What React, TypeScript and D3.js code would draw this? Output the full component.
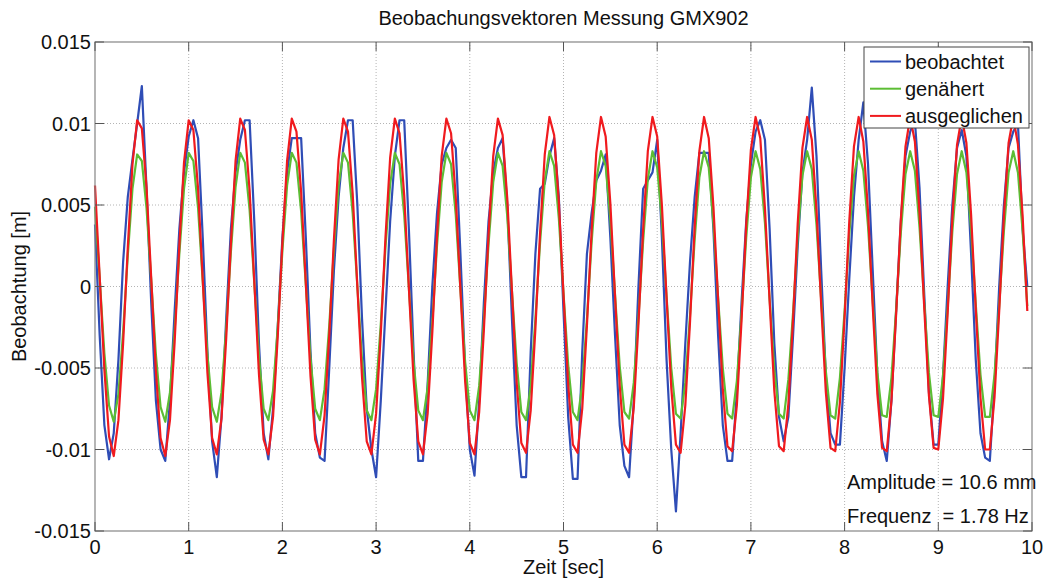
import React from 'react';
import * as d3 from 'd3';

const TITLE = 'Beobachungsvektoren Messung GMX902';
const X_LABEL = 'Zeit [sec]';
const Y_LABEL = 'Beobachtung [m]';

// samples every 0.05 s (20 Hz), values in mm
const SAMPLE_STEP = 0.05;

const xTicks = [0, 1, 2, 3, 4, 5, 6, 7, 8, 9, 10];
const yTicks = [0.015, 0.01, 0.005, 0, -0.005, -0.01, -0.015];
const yTickLabels = ['0.015', '0.01', '0.005', '0', '-0.005', '-0.01', '-0.015'];

const beobachtet = [
  3.8, -3.0, -8.5, -10.6, -9.0, -4.5, 1.5, 5.5, 7.8, 10.0, 12.3,
  6.0, -1.0, -7.0, -10.0, -10.7, -7.0, -1.5, 3.5, 7.0, 9.2, 10.2,
  9.1, 3.0, -4.0, -9.5, -11.7, -8.0, -2.0, 3.5, 7.0, 9.0, 10.2,
  10.2, 4.0, -3.5, -9.0, -10.6, -7.5, -2.5, 3.0, 7.0, 9.1, 9.1,
  9.1, 3.0, -4.0, -9.0, -10.5, -10.7, -5.0, 1.0, 5.5, 8.5, 10.2,
  10.2, 5.0, -2.0, -7.5, -10.0, -11.7, -7.0, -1.5, 4.0, 8.0, 10.2,
  10.2, 3.5, -4.0, -10.7, -10.7, -6.0, 0.0, 4.5, 7.5, 8.5, 9.0,
  8.5, 2.0, -5.0, -10.0, -11.6, -7.0, -1.0, 4.0, 7.0, 8.5, 9.1,
  5.0, -2.0, -8.5, -11.7, -11.7, -4.0, 2.0, 6.0, 6.3, 8.0, 9.1,
  5.5, -1.5, -8.0, -11.8, -11.8, -4.0, 2.0, 4.5, 6.5, 7.1, 8.1,
  3.0, -3.0, -8.5, -11.0, -11.7, -7.0, 0.0, 6.0, 6.5, 7.0, 9.0,
  3.0, -4.5, -10.0, -13.8, -9.0, -3.5, 1.5, 5.5, 8.2, 8.2, 8.2,
  3.5, -3.0, -8.5, -10.7, -10.7, -6.5, -1.0, 4.0, 7.5, 9.5, 10.2,
  9.0, 3.5, -3.5, -8.0, -9.5, -8.0, -3.0, 2.5, 7.0, 9.0, 12.2,
  8.0, 1.0, -5.5, -9.0, -9.7, -9.7, -5.0, 0.5, 5.5, 9.0, 11.3,
  7.5, 1.0, -5.5, -9.5, -10.7, -7.0, -1.5, 4.0, 8.0, 9.5, 10.2,
  6.0, -0.5, -6.5, -9.7, -9.7, -5.5, 0.0, 5.0, 8.5, 9.6, 8.0,
  2.0, -4.5, -9.0, -10.5, -10.7, -6.0, 0.0, 5.0, 8.5, 9.5, 10.0,
  3.5, 0.0,
];

const genaehert = [
  4.9, 0.5, -4.1, -7.3, -8.3, -6.6, -2.8, 1.9, 6.0, 8.1, 7.7,
  4.8, 0.4, -4.2, -7.4, -8.3, -6.5, -2.7, 2.0, 6.0, 8.2, 7.7,
  4.8, 0.3, -4.2, -7.4, -8.3, -6.5, -2.6, 2.1, 6.1, 8.2, 7.6,
  4.7, 0.2, -4.3, -7.5, -8.2, -6.4, -2.5, 2.2, 6.2, 8.2, 7.6,
  4.6, 0.1, -4.4, -7.5, -8.2, -6.3, -2.4, 2.3, 6.2, 8.2, 7.6,
  4.5, 0.0, -4.5, -7.6, -8.2, -6.3, -2.3, 2.4, 6.3, 8.2, 7.5,
  4.4, -0.1, -4.6, -7.6, -8.2, -6.2, -2.2, 2.5, 6.4, 8.2, 7.5,
  4.4, -0.2, -4.6, -7.6, -8.2, -6.1, -2.1, 2.6, 6.4, 8.2, 7.4,
  4.3, -0.3, -4.7, -7.7, -8.2, -6.1, -2.0, 2.7, 6.5, 8.3, 7.4,
  4.2, -0.4, -4.8, -7.7, -8.2, -6.0, -2.0, 2.7, 6.5, 8.3, 7.4,
  4.1, -0.5, -4.9, -7.7, -8.1, -5.9, -1.9, 2.8, 6.6, 8.3, 7.3,
  4.0, -0.6, -5.0, -7.8, -8.1, -5.9, -1.8, 2.9, 6.7, 8.3, 7.3,
  3.9, -0.7, -5.0, -7.8, -8.1, -5.8, -1.7, 3.0, 6.7, 8.3, 7.2,
  3.9, -0.8, -5.1, -7.8, -8.1, -5.7, -1.6, 3.1, 6.8, 8.3, 7.2,
  3.8, -0.8, -5.2, -7.9, -8.1, -5.6, -1.5, 3.2, 6.8, 8.3, 7.1,
  3.7, -0.9, -5.3, -7.9, -8.0, -5.6, -1.4, 3.3, 6.9, 8.3, 7.1,
  3.6, -1.0, -5.3, -7.9, -8.0, -5.5, -1.3, 3.4, 6.9, 8.3, 7.0,
  3.5, -1.1, -5.4, -8.0, -8.0, -5.4, -1.2, 3.4, 7.0, 8.3, 7.0,
  3.4, -1.2,
];

const ausgeglichen = [
  6.2, 0.6, -5.1, -9.2, -10.4, -8.2, -3.5, 2.4, 7.5, 10.2, 9.7,
  6.1, 0.5, -5.2, -9.3, -10.4, -8.2, -3.4, 2.5, 7.6, 10.2, 9.6,
  6.0, 0.4, -5.3, -9.3, -10.3, -8.1, -3.2, 2.6, 7.7, 10.3, 9.6,
  5.9, 0.3, -5.4, -9.4, -10.3, -8.0, -3.1, 2.7, 7.7, 10.3, 9.5,
  5.8, 0.2, -5.5, -9.4, -10.3, -7.9, -3.0, 2.9, 7.8, 10.3, 9.5,
  5.7, 0.0, -5.6, -9.5, -10.3, -7.8, -2.9, 3.0, 7.9, 10.3, 9.4,
  5.6, -0.1, -5.7, -9.5, -10.3, -7.8, -2.8, 3.1, 8.0, 10.3, 9.4,
  5.5, -0.2, -5.8, -9.6, -10.3, -7.7, -2.7, 3.2, 8.0, 10.3, 9.3,
  5.4, -0.3, -5.9, -9.6, -10.2, -7.6, -2.6, 3.3, 8.1, 10.4, 9.3,
  5.2, -0.5, -6.0, -9.7, -10.2, -7.5, -2.4, 3.4, 8.2, 10.4, 9.2,
  5.1, -0.6, -6.1, -9.7, -10.2, -7.4, -2.3, 3.5, 8.3, 10.4, 9.2,
  5.0, -0.7, -6.2, -9.7, -10.2, -7.3, -2.2, 3.7, 8.3, 10.4, 9.1,
  4.9, -0.8, -6.3, -9.8, -10.1, -7.3, -2.1, 3.8, 8.4, 10.4, 9.1,
  4.8, -0.9, -6.4, -9.8, -10.1, -7.2, -2.0, 3.9, 8.5, 10.4, 9.0,
  4.7, -1.1, -6.5, -9.9, -10.1, -7.1, -1.9, 4.0, 8.6, 10.4, 8.9,
  4.6, -1.2, -6.6, -9.9, -10.1, -7.0, -1.7, 4.1, 8.6, 10.4, 8.9,
  4.5, -1.3, -6.7, -9.9, -10.0, -6.9, -1.6, 4.2, 8.7, 10.4, 8.8,
  4.4, -1.4, -6.8, -10.0, -10.0, -6.8, -1.5, 4.3, 8.8, 10.4, 8.7,
  4.3, -1.5,
];

const seriesNames = ['beobachtet', 'genähert', 'ausgeglichen'];
const seriesColors = ['#2f4db6', '#5cbd34', '#f01a1e'];
const infoLines = ['Amplitude = 10.6 mm', 'Frequenz  = 1.78 Hz'];

const W = 1046;
const H = 579;
const plot = { left: 95, right: 1032, top: 42, bottom: 531 };
const FONT = '"Liberation Sans", Arial, Helvetica, sans-serif';

export default function App() {
  const x = d3.scaleLinear().domain([0, 10]).range([plot.left, plot.right]);
  const y = d3.scaleLinear().domain([-0.015, 0.015]).range([plot.bottom, plot.top]);

  const line = d3
    .line<number>()
    .x((_, i) => x(i * SAMPLE_STEP))
    .y(d => y(d / 1000));

  const series = [beobachtet, genaehert, ausgeglichen];
  const tickLen = 9;

  return (
    <div style={{ position: 'absolute', left: 0, top: 0 }}>
      <svg width={W} height={H} style={{ display: 'block', background: '#fff' }} fontFamily={FONT}>
        <rect x={0} y={0} width={W} height={H} fill="#fff" />

        {/* grid */}
        <g stroke="#b4b4b4" strokeWidth={1} strokeDasharray="1 2">
          {xTicks.slice(1, -1).map(t => (
            <line key={'gx' + t} x1={x(t)} x2={x(t)} y1={plot.top} y2={plot.bottom} />
          ))}
          {yTicks.slice(1, -1).map(t => (
            <line key={'gy' + t} x1={plot.left} x2={plot.right} y1={y(t)} y2={y(t)} />
          ))}
        </g>

        {/* data */}
        <g fill="none" strokeWidth={2.2} strokeLinejoin="round">
          {series.map((s, i) => (
            <path key={seriesNames[i]} d={line(s) || ''} stroke={seriesColors[i]} />
          ))}
        </g>

        {/* axes box + ticks */}
        <rect
          x={plot.left}
          y={plot.top}
          width={plot.right - plot.left}
          height={plot.bottom - plot.top}
          fill="none"
          stroke="#858585"
          strokeWidth={1.2}
        />
        <g stroke="#555" strokeWidth={1}>
          {xTicks.map(t => (
            <g key={'tx' + t}>
              <line x1={x(t)} x2={x(t)} y1={plot.bottom} y2={plot.bottom - tickLen} />
              <line x1={x(t)} x2={x(t)} y1={plot.top} y2={plot.top + tickLen} />
            </g>
          ))}
          {yTicks.map(t => (
            <g key={'ty' + t}>
              <line x1={plot.left} x2={plot.left + tickLen} y1={y(t)} y2={y(t)} />
              <line x1={plot.right} x2={plot.right - tickLen} y1={y(t)} y2={y(t)} />
            </g>
          ))}
        </g>

        {/* tick labels */}
        <g fontSize={20} fill="#111">
          {xTicks.map(t => (
            <text key={'lx' + t} x={x(t)} y={plot.bottom + 23} textAnchor="middle">
              {t}
            </text>
          ))}
          {yTicks.map((t, i) => (
            <text key={'ly' + t} x={plot.left - 4} y={y(t) + 7} textAnchor="end">
              {yTickLabels[i]}
            </text>
          ))}
        </g>

        {/* title and axis labels */}
        <text x={(plot.left + plot.right) / 2} y={25} textAnchor="middle" fontSize={20} fill="#111">
          {TITLE}
        </text>
        <text x={(plot.left + plot.right) / 2} y={574} textAnchor="middle" fontSize={20} fill="#111">
          {X_LABEL}
        </text>
        <text
          transform={`translate(26,${(plot.top + plot.bottom) / 2}) rotate(-90)`}
          textAnchor="middle"
          fontSize={20}
          fill="#111"
        >
          {Y_LABEL}
        </text>

        {/* legend */}
        <g>
          <rect x={864} y={47} width={165} height={81} fill="#fff" stroke="#444" strokeWidth={1} />
          {seriesNames.map((name, i) => {
            const ly = 61.5 + i * 27.2;
            return (
              <g key={'leg' + name}>
                <line x1={870} x2={901} y1={ly} y2={ly} stroke={seriesColors[i]} strokeWidth={2} />
                <text x={905} y={ly + 7.5} fontSize={20} fill="#111">
                  {name}
                </text>
              </g>
            );
          })}
        </g>

        {/* annotation */}
        <g fontSize={20} fill="#111">
          {infoLines.map((txt, i) => (
            <text key={'info' + i} x={847} y={489 + i * 34} xmlSpace="preserve" style={{ whiteSpace: 'pre' }}>
              {txt}
            </text>
          ))}
        </g>
      </svg>
    </div>
  );
}
